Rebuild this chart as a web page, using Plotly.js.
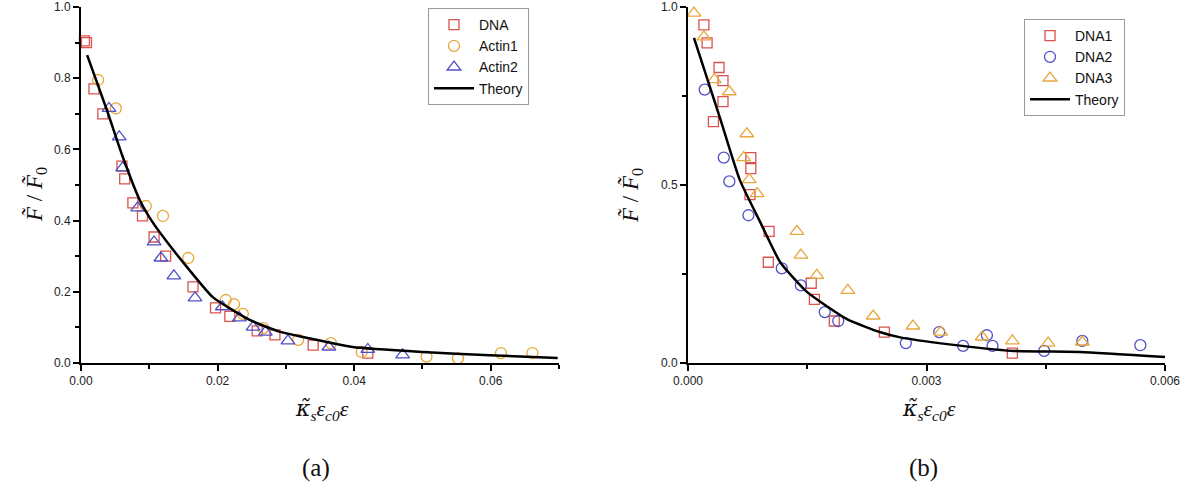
<!DOCTYPE html>
<html>
<head>
<meta charset="utf-8">
<script src="https://cdn.plot.ly/plotly-3.0.1.min.js"></script>
<style>html,body{margin:0;padding:0;background:#fff;}#chart{width:1194px;height:491px;}</style>
</head>
<body>
<div id="chart"></div>
<script>
// Panel (a)
const dnaA_x = [0.0005,0.0008,0.0019,0.0032,0.0060,0.0064,0.0076,0.0090,0.0107,0.0124,0.0164,0.0197,0.0218,0.0258,0.0284,0.0340,0.0420];
const dnaA_y = [0.905,0.900,0.770,0.700,0.553,0.517,0.450,0.413,0.354,0.300,0.214,0.155,0.131,0.090,0.079,0.050,0.028];
const actin1_x = [0.0025,0.0051,0.0095,0.0120,0.0157,0.0212,0.0224,0.0237,0.0267,0.0318,0.0366,0.0411,0.0506,0.0552,0.0615,0.0661];
const actin1_y = [0.795,0.715,0.441,0.413,0.295,0.177,0.165,0.138,0.098,0.065,0.056,0.031,0.018,0.013,0.028,0.028];
const actin2_x = [0.0041,0.0056,0.0061,0.0083,0.0107,0.0117,0.0136,0.0167,0.0207,0.0232,0.0252,0.0270,0.0303,0.0363,0.0420,0.0471];
const actin2_y = [0.715,0.635,0.548,0.436,0.340,0.295,0.245,0.183,0.158,0.127,0.101,0.087,0.062,0.045,0.038,0.023];
const theoryA_x = [0.0009,0.0038,0.0060,0.0086,0.0105,0.0130,0.0155,0.0193,0.0247,0.0291,0.0320,0.0398,0.0500,0.0598,0.0698];
const theoryA_y = [0.865,0.710,0.585,0.458,0.395,0.330,0.270,0.185,0.121,0.088,0.075,0.045,0.031,0.022,0.014];

// Panel (b)
const dna1_x = [0.00020,0.00024,0.00039,0.00044,0.00044,0.00032,0.00079,0.00079,0.00078,0.00102,0.00101,0.00155,0.00159,0.00184,0.00247,0.00408];
const dna1_y = [0.950,0.899,0.830,0.793,0.734,0.678,0.577,0.546,0.473,0.370,0.283,0.224,0.179,0.118,0.087,0.028];
const dna2_x = [0.00021,0.00045,0.00052,0.00076,0.00118,0.00142,0.00172,0.00189,0.00274,0.00316,0.00346,0.00376,0.00383,0.00448,0.00496,0.00569];
const dna2_y = [0.768,0.577,0.510,0.415,0.266,0.218,0.143,0.118,0.056,0.087,0.048,0.078,0.048,0.034,0.062,0.050];
const dna3_x = [0.000075,0.00020,0.00033,0.00052,0.00074,0.00070,0.00077,0.00087,0.00137,0.00142,0.00162,0.00201,0.00233,0.00283,0.00318,0.00370,0.00408,0.00453,0.00496];
const dna3_y = [0.983,0.916,0.796,0.762,0.644,0.577,0.515,0.476,0.370,0.303,0.246,0.204,0.132,0.104,0.087,0.073,0.062,0.056,0.059];
const theoryB_x = [0.000075,0.00040,0.00065,0.00091,0.00116,0.00150,0.00200,0.00241,0.00267,0.00326,0.00409,0.00493,0.00600];
const theoryB_y = [0.913,0.690,0.515,0.395,0.283,0.199,0.123,0.087,0.072,0.053,0.034,0.031,0.017];

const RED = '#d9534f', ORANGE = '#e6a83c', BLUE = '#5050c8';
const tickFont = {family:'Liberation Sans, Arial, sans-serif', size:12, color:'#222'};
const legFont = {family:'Liberation Sans, Arial, sans-serif', size:14, color:'#111'};
const serif = 'Liberation Serif, Times New Roman, serif';

function sc(x,y,name,sym,col,xa,ya,leg,size){
  return {x:x,y:y,name:name,type:'scatter',mode:'markers',xaxis:xa,yaxis:ya,legend:leg,
    marker:{symbol:sym,size:size||10,color:col,line:{color:col,width:1.3}},cliponaxis:false};
}
const traces = [
  sc(dnaA_x,dnaA_y,'DNA','square-open',RED,'x','y','legend'),
  sc(actin1_x,actin1_y,'Actin1','circle-open',ORANGE,'x','y','legend',11),
  sc(actin2_x,actin2_y,'Actin2','triangle-up-open',BLUE,'x','y','legend',12),
  {x:theoryA_x,y:theoryA_y,name:'Theory',type:'scatter',mode:'lines',xaxis:'x',yaxis:'y',legend:'legend',
    line:{color:'#000',width:2.5,shape:'spline',smoothing:0.5}},
  sc(dna1_x,dna1_y,'DNA1','square-open',RED,'x2','y2','legend2'),
  sc(dna2_x,dna2_y,'DNA2','circle-open',BLUE,'x2','y2','legend2',11),
  sc(dna3_x,dna3_y,'DNA3','triangle-up-open',ORANGE,'x2','y2','legend2',12),
  {x:theoryB_x,y:theoryB_y,name:'Theory',type:'scatter',mode:'lines',xaxis:'x2',yaxis:'y2',legend:'legend2',
    line:{color:'#000',width:2.5,shape:'spline',smoothing:0.5}}
];

function axis(dom,range,vals,text,minorVals,anchor){
  return {domain:dom,range:range,anchor:anchor,tickmode:'array',tickvals:vals,ticktext:text,
    showline:true,linecolor:'#000',linewidth:2,ticks:'outside',ticklen:6,tickwidth:2,tickcolor:'#000',
    showgrid:false,zeroline:false,tickfont:tickFont,fixedrange:true,
    minor:{tickmode:'array',tickvals:minorVals,ticks:'outside',ticklen:4,tickwidth:2,tickcolor:'#000'}};
}
const xd1=[81/1194,559/1194], xd2=[688/1194,1165/1194], yd=[1-363/491,1-7/491];
const yTitle = '<i>F̃</i> / <i>F̃</i><sub>0</sub>';
const xTitle = '<span style="font-family:DejaVu Serif;font-style:italic">κ̃</span><i><sub>s</sub>ε<sub>c0</sub>ε</i>';
function ann(x,y,text,size,angle){
  return {xref:'paper',yref:'paper',x:x/1194,y:1-y/491,xanchor:'center',yanchor:'middle',text:text,
    showarrow:false,textangle:angle||0,font:{family:serif,size:size,color:'#111'}};
}
const layout = {
  width:1194,height:491,margin:{l:0,r:0,t:0,b:0},paper_bgcolor:'#fff',plot_bgcolor:'#fff',
  showlegend:true,
  xaxis:axis(xd1,[0,0.07],[0,0.02,0.04,0.06],['0.00','0.02','0.04','0.06'],[0.01,0.03,0.05,0.07],'y'),
  yaxis:axis(yd,[0,1],[0,0.2,0.4,0.6,0.8,1.0],['0.0','0.2','0.4','0.6','0.8','1.0'],[0.1,0.3,0.5,0.7,0.9],'x'),
  xaxis2:axis(xd2,[0,0.006],[0,0.003,0.006],['0.000','0.003','0.006'],[0.0015,0.0045],'y2'),
  yaxis2:axis(yd,[0,1],[0,0.5,1.0],['0.0','0.5','1.0'],[0.25,0.75],'x2'),
  legend:{x:428/1194,y:1-8/491,xanchor:'left',yanchor:'top',bordercolor:'#999',borderwidth:1,
    bgcolor:'#fff',font:legFont,itemwidth:40,tracegroupgap:0,traceorder:'normal'},
  legend2:{x:1024/1194,y:1-19/491,xanchor:'left',yanchor:'top',bordercolor:'#999',borderwidth:1,
    bgcolor:'#fff',font:legFont,itemwidth:40,tracegroupgap:0,traceorder:'normal'},
  annotations:[
    ann(35,195,yTitle,23,-90),
    ann(631,196,yTitle,23,-90),
    ann(322,410,xTitle,22,0),
    ann(929,410,xTitle,22,0),
    ann(316,468,'(a)',25,0),
    ann(923,468,'(b)',25,0)
  ]
};
Plotly.newPlot('chart',traces,layout,{staticPlot:true,displayModeBar:false});
</script>
</body>
</html>
